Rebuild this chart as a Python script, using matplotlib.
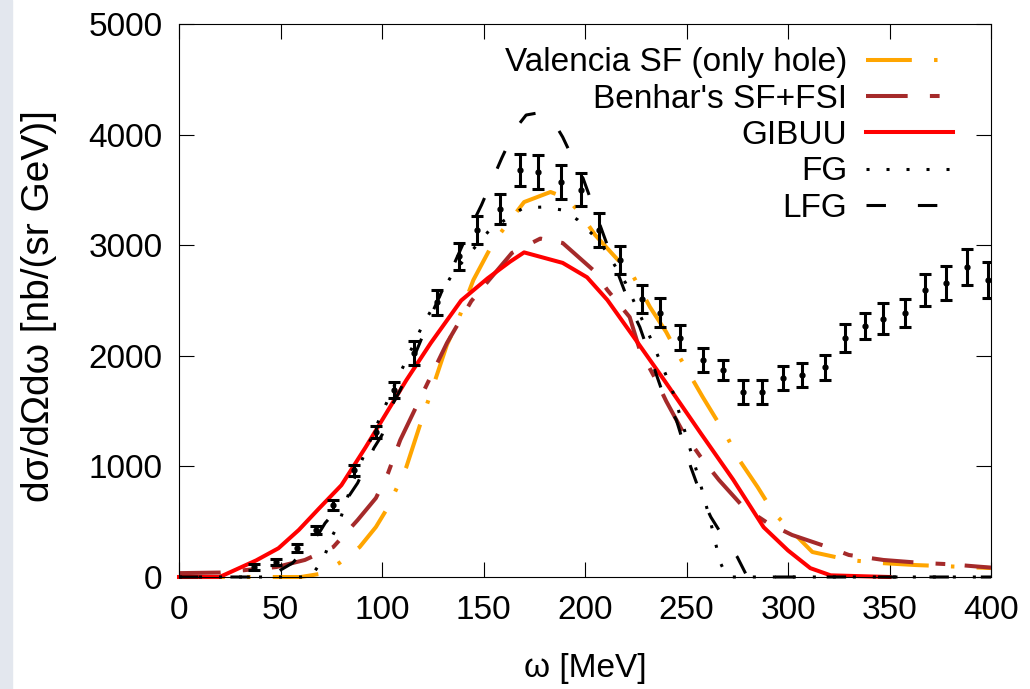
import numpy as np
import matplotlib
matplotlib.use("Agg")
import matplotlib.pyplot as plt
from matplotlib.patches import Rectangle

plt.rcParams["font.family"] = ["Liberation Sans", "DejaVu Sans"]
plt.rcParams["lines.scale_dashes"] = False

# experimental points
data_x = [37, 48, 58, 67.5, 76, 86, 97, 106, 116, 127, 138, 147, 158, 168, 177, 188, 198, 207,
          217, 228, 237, 247, 258, 268, 278, 287, 297.5, 307, 318, 328, 338, 347, 357.5, 367.5,
          378, 388, 398.5]
data_y = [90, 136, 262, 425, 651, 967, 1310, 1690, 2025, 2486, 2900, 3135, 3330, 3680, 3662,
          3571, 3500, 3137, 2866, 2515, 2390, 2161, 1962, 1872, 1673, 1673, 1799, 1826, 1895,
          2161, 2269, 2333, 2387, 2595, 2658, 2803, 2685]
data_err = [25, 30, 35, 40, 45, 50, 55, 75, 105, 113, 120, 125, 135, 145, 155, 150, 150, 150,
            128, 128, 131, 113, 110, 94, 108, 108, 108, 108, 113, 125, 116, 140, 131, 146,
            150, 161, 166]

# Valencia SF (only hole)
val_x = [0, 60, 70, 79, 89, 97, 103, 112, 120, 124, 132, 137, 145, 155, 170, 183, 191, 197.5,
         205, 214, 224, 232, 240, 246, 258, 270, 276, 285, 293, 312, 330, 345, 363, 388, 400]
val_y = [0, 0, 30, 127, 271, 452, 633, 995, 1447, 1660, 2100, 2300, 2685, 3029, 3390, 3481,
         3427, 3291, 3092, 2911, 2712, 2441, 2215, 2007, 1627, 1266, 1058, 814, 579, 226, 154,
         127, 108, 90, 81]

# Benhar's SF+FSI
ben_x = [0, 20, 48, 62, 76, 88, 97, 103, 109, 122, 132, 144, 164, 178, 189, 204, 211, 222,
         227, 235, 240, 248, 257, 266, 278, 290, 302, 321, 330, 347, 366, 380, 393, 400]
ben_y = [35, 40, 90, 154, 271, 515, 714, 940, 1239, 1736, 2116, 2495, 2930, 3060, 3020, 2776,
         2595, 2350, 2052, 1781, 1590, 1320, 1085, 877, 633, 488, 380, 262, 199, 154, 127, 115,
         95, 85]

# GIBUU
gib_x = [0, 20, 38, 49, 59, 69, 80, 92, 112, 124, 139, 152, 163, 170, 189, 201, 211, 224, 239,
         257, 273, 288, 300, 311, 321, 350]
gib_y = [0, 0, 150, 260, 425, 620, 830, 1175, 1780, 2115, 2500, 2700, 2850, 2935, 2840, 2710,
         2505, 2170, 1780, 1300, 880, 450, 240, 80, 15, 0]

# FG
fg_x = [0, 65, 71.5, 75, 79, 85, 92.6, 100, 108, 112, 120, 135, 153, 169.5, 179, 189, 196.5,
        204, 210, 220, 232, 243, 249, 257, 262, 266.5, 270, 400]
fg_y = [0, 0, 181, 352, 497, 832, 1166, 1483, 1808, 1962, 2278, 2749, 3137, 3336, 3345, 3318,
        3228, 3092, 2957, 2658, 2170, 1690, 1329, 832, 488, 136, 0, 0]

# LFG
lfg_x = [0, 45, 50, 56, 69, 72, 84, 88, 96, 100, 105, 109, 125, 143, 149, 159, 166, 171, 178,
         184, 189, 196, 199, 210, 223, 227, 239, 245, 252, 258, 262, 270, 275, 280, 400]
lfg_y = [0, 0, 63, 127, 398, 488, 740, 850, 1166, 1284, 1555, 1690, 2400, 3137, 3363, 3788,
         4060, 4177, 4200, 4132, 3978, 3707, 3607, 3050, 2414, 2260, 1627, 1420, 1000, 696,
         542, 307, 181, 0, 0]

fig = plt.figure(figsize=(10.3, 6.89), dpi=100)
ax = fig.add_axes([179 / 1030, 1 - 577 / 689, 812 / 1030, 553 / 689])
fig.patches.append(Rectangle((0, 0), 12 / 1030, 1, transform=fig.transFigure,
                             color="#e3e7ee", zorder=-5))

ax.plot(val_x, val_y, color="#ffa500", lw=2.9, dashes=(33, 16, 2.5, 16),
        label="Valencia SF (only hole)", clip_on=False)
ax.plot(ben_x, ben_y, color="#a52a2a", lw=2.9, dashes=(30, 16, 7, 14),
        label="Benhar's SF+FSI", clip_on=False)
ax.plot(gib_x, gib_y, color="#ff0000", lw=2.9, label="GIBUU", clip_on=False)
ax.plot(fg_x, fg_y, color="black", lw=2.2, dashes=(2.2, 12.2), label="FG", clip_on=False)
ax.plot(lfg_x, lfg_y, color="black", lw=2.2, dashes=(14, 23), label="LFG", clip_on=False)

ax.errorbar(data_x, data_y, yerr=data_err, fmt="o", ms=3.5, color="black",
            elinewidth=2.2, capsize=4.5, capthick=2.2, zorder=5)

ax.set_xlim(0, 400)
ax.set_ylim(0, 5000)
ax.set_xticks(range(0, 401, 50))
ax.set_yticks(range(0, 5001, 1000))
ax.tick_params(direction="in", length=11, width=0.8, top=True, right=True, labelsize=24)
ax.tick_params(axis="x", pad=13)
ax.tick_params(axis="y", pad=12)
for sp in ax.spines.values():
    sp.set_linewidth(0.8)

ax.set_xlabel("ω [MeV]", fontsize=24)
ax.set_ylabel("dσ/dΩdω [nb/(sr GeV)]", fontsize=28)
ax.xaxis.set_label_coords(0.5, -0.137)
ax.yaxis.set_label_coords(-0.150, 0.49)

ax.legend(loc="upper right", bbox_to_anchor=(0.953, 0.958), frameon=False, fontsize=24,
          markerfirst=False, handlelength=2.6, handletextpad=0.57, labelspacing=0.16,
          borderpad=0, borderaxespad=0)

fig.savefig("out.png", dpi=100)
